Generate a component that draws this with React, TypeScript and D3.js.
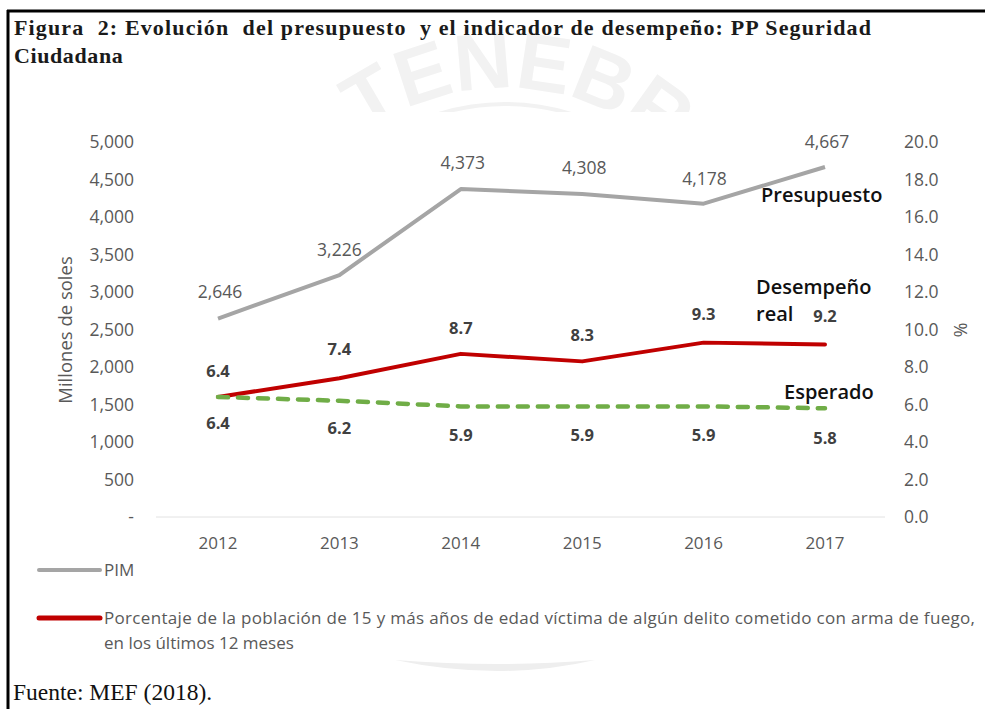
import * as d3 from 'd3';

const years = ['2012', '2013', '2014', '2015', '2016', '2017'];
const pim = [2646, 3226, 4373, 4308, 4178, 4667];
const real = [6.4, 7.4, 8.7, 8.3, 9.3, 9.2];
const esperado = [6.4, 6.2, 5.9, 5.9, 5.9, 5.8];
const leftTicks = [0, 500, 1000, 1500, 2000, 2500, 3000, 3500, 4000, 4500, 5000];
const rightTicks = [0, 2, 4, 6, 8, 10, 12, 14, 16, 18, 20];

const sans = '"Open Sans", sans-serif';
const serif = '"Liberation Serif", serif';

// label offsets from each point, in px
const pimOffset = [-21, -19, -20, -20, -19, -19];
const pimDx = [2, 0, 2, 2, 1, 2];
const realOffset = [-20, -23, -20, -20, -23, -23];
const espOffset = [32, 33, 35, 35, 35, 36];

const x = d3.scalePoint<string>().domain(years).range([218, 825]);
const yL = d3.scaleLinear().domain([0, 5000]).range([517, 142]);
const yR = d3.scaleLinear().domain([0, 20]).range([517, 142]);

const pimLine = d3.line<number>().x((_, i) => x(years[i])!).y(d => yL(d));
const pctLine = d3.line<number>().x((_, i) => x(years[i])!).y(d => yR(d));

const leftFmt = (d: number) => (d === 0 ? '-' : d3.format(',')(d));

export default function App() {
  return (
    <svg
      width={985}
      height={709}
      style={{ position: 'absolute', left: 0, top: 0, background: '#fff' }}
    >
      {/* watermark */}
      <defs>
        <path id="wm" d="M 265 328 A 240 240 0 0 1 745 328" />
      </defs>
      <clipPath id="wmClip">
        <rect x={10} y={12} width={970} height={100} />
      </clipPath>
      <g clipPath="url(#wmClip)">
        <text fontFamily='"Liberation Sans", sans-serif' fontWeight={700} fontSize={80} fill="#f2f2f2" textAnchor="middle">
          <textPath href="#wm" startOffset="50%">IN TENEBRIS</textPath>
        </text>
        <circle cx={505} cy={328} r={224} fill="none" stroke="#f2f2f2" strokeWidth={4} />
      </g>
      <path d="M 395 660 Q 500 682 595 660 Q 500 668 395 660 Z" fill="#eeeeee" />

      {/* frame */}
      <line x1={7} x2={985} y1={11} y2={11} stroke="#000" strokeWidth={3} />
      <line x1={8} x2={8} y1={10} y2={709} stroke="#000" strokeWidth={3} />

      <text x={14} y={35} fontFamily={serif} fontWeight={700} fontSize={22} fill="#1a1a1a"
        textLength={857} lengthAdjust="spacing" style={{ whiteSpace: 'pre' }}>
        Figura  2: Evolución  del presupuesto  y el indicador de desempeño: PP Seguridad
      </text>
      <text x={14} y={63} fontFamily={serif} fontWeight={700} fontSize={22} fill="#1a1a1a" letterSpacing={0.6}>
        Ciudadana
      </text>

      {/* axes */}
      <line x1={156} x2={885} y1={yL(0)} y2={yL(0)} stroke="#e2e2e2" strokeWidth={1} />
      {leftTicks.map(t => (
        <text key={t} x={134} y={yL(t) + 6} textAnchor="end" fontFamily={sans} fontSize={17.5} fill="#595959">
          {leftFmt(t)}
        </text>
      ))}
      {rightTicks.map(t => (
        <text key={t} x={904} y={yR(t) + 6} fontFamily={sans} fontSize={17.5} fill="#595959">
          {t.toFixed(1)}
        </text>
      ))}
      {years.map(yr => (
        <text key={yr} x={x(yr)} y={549} textAnchor="middle" fontFamily={sans} fontSize={17} fill="#595959">
          {yr}
        </text>
      ))}
      <text transform="translate(72,330) rotate(-90)" textAnchor="middle" fontFamily={sans} fontSize={18.5} fill="#595959">
        Millones de soles
      </text>
      <text transform="translate(954,330) rotate(90)" textAnchor="middle" fontFamily={sans} fontSize={18} fill="#595959">
        %
      </text>

      {/* series */}
      <path d={pimLine(pim)!} fill="none" stroke="#a5a5a5" strokeWidth={4} strokeLinejoin="round" />
      <path d={pctLine(real)!} fill="none" stroke="#c00000" strokeWidth={4} strokeLinejoin="round" strokeLinecap="round" />
      <path d={pctLine(esperado)!} fill="none" stroke="#70ad47" strokeWidth={4.5} strokeDasharray="10 10" strokeLinecap="round" />

      {/* data labels */}
      {pim.map((v, i) => (
        <text key={years[i]} x={x(years[i])! + pimDx[i]} y={yL(v) + pimOffset[i]} textAnchor="middle"
          fontFamily={sans} fontSize={17.5} fill="#595959">
          {d3.format(',')(v)}
        </text>
      ))}
      {real.map((v, i) => (
        <text key={years[i]} x={x(years[i])!} y={yR(v) + realOffset[i]} textAnchor="middle"
          fontFamily={sans} fontWeight={700} fontSize={16.5} fill="#404040">
          {v.toFixed(1)}
        </text>
      ))}
      {esperado.map((v, i) => (
        <text key={years[i]} x={x(years[i])!} y={yR(v) + espOffset[i]} textAnchor="middle"
          fontFamily={sans} fontWeight={700} fontSize={16.5} fill="#404040">
          {v.toFixed(1)}
        </text>
      ))}

      {/* annotations */}
      <text x={761} y={202} fontFamily={sans} fontWeight={600} fontSize={20} fill="#111">Presupuesto</text>
      <text x={756} y={294} fontFamily={sans} fontWeight={600} fontSize={20} fill="#111">Desempeño</text>
      <text x={756} y={321} fontFamily={sans} fontWeight={600} fontSize={20} fill="#111">real</text>
      <text x={784} y={399} fontFamily={sans} fontWeight={600} fontSize={20} fill="#111">Esperado</text>

      {/* legend */}
      <line x1={39} x2={100} y1={570} y2={570} stroke="#a5a5a5" strokeWidth={4} strokeLinecap="round" />
      <text x={104} y={576} fontFamily={sans} fontSize={17} fill="#595959">PIM</text>
      <line x1={39} x2={100} y1={618} y2={618} stroke="#c00000" strokeWidth={5} strokeLinecap="round" />
      <text x={104} y={624} fontFamily={sans} fontSize={17} fill="#595959" textLength={871} lengthAdjust="spacing">
        Porcentaje de la población de 15 y más años de edad víctima de algún delito cometido con arma de fuego,
      </text>
      <text x={104} y={649} fontFamily={sans} fontSize={17} fill="#595959">en los últimos 12 meses</text>

      <text x={13} y={700} fontFamily={serif} fontSize={23.5} fill="#111">Fuente: MEF (2018).</text>
    </svg>
  );
}
